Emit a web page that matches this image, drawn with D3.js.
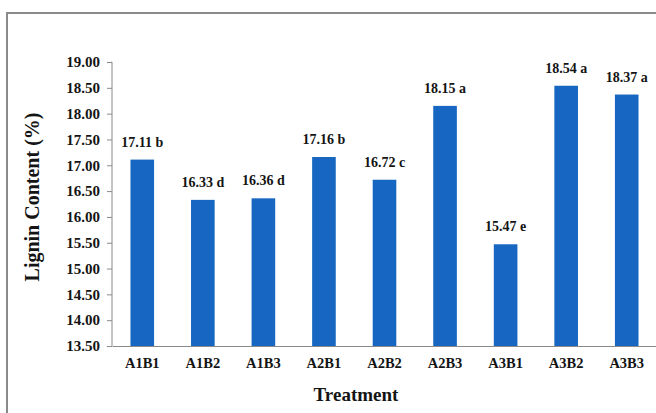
<!DOCTYPE html>
<html>
<head>
<meta charset="utf-8">
<script src="https://cdn.jsdelivr.net/npm/d3@7"></script>
<style>
  html, body { margin: 0; padding: 0; background: #fff; }
  svg { display: block; }
</style>
</head>
<body>
<svg id="chart" width="656" height="413"></svg>
<script>
// Lignin content per treatment, with significance letters
const treatments = ["A1B1", "A1B2", "A1B3", "A2B1", "A2B2", "A2B3", "A3B1", "A3B2", "A3B3"];
const lignin = [17.11, 16.33, 16.36, 17.16, 16.72, 18.15, 15.47, 18.54, 18.37];
const letters = ["b", "d", "d", "b", "c", "a", "e", "a", "a"];
const yTicks = [13.5, 14, 14.5, 15, 15.5, 16, 16.5, 17, 17.5, 18, 18.5, 19];

const serif = "'Liberation Serif', 'Times New Roman', serif";
const ink = "#141414";
const axisGrey = "#8a8a8a";

const svg = d3.select("#chart");

// outer frame
svg.append("rect")
  .attr("x", 7).attr("y", 13)
  .attr("width", 700).attr("height", 450)
  .attr("fill", "#fff")
  .attr("stroke", axisGrey).attr("stroke-width", 2);

const plotLeft = 112, plotRight = 657, plotTop = 62, plotBottom = 346;

const x = d3.scaleBand().domain(treatments).range([plotLeft, plotRight]).paddingInner(0.61).paddingOuter(0.305);
const y = d3.scaleLinear().domain([13.5, 19]).range([plotBottom, plotTop]);

// bars
svg.append("g").selectAll("rect")
  .data(treatments)
  .join("rect")
  .attr("x", d => x(d))
  .attr("width", x.bandwidth())
  .attr("y", (d, i) => y(lignin[i]))
  .attr("height", (d, i) => y(13.5) - y(lignin[i]))
  .attr("fill", "#1767c2");

// value labels
svg.append("g")
  .attr("font-family", serif).attr("font-weight", "bold").attr("font-size", 14).attr("fill", ink)
  .selectAll("text")
  .data(treatments)
  .join("text")
  .attr("x", d => x(d) + x.bandwidth() / 2)
  .attr("y", (d, i) => y(lignin[i]) - 13)
  .attr("text-anchor", "middle")
  .text((d, i) => lignin[i].toFixed(2) + " " + letters[i]);

// y axis
const yAxis = svg.append("g")
  .attr("transform", `translate(${plotLeft},0)`)
  .call(d3.axisLeft(y).tickValues(yTicks).tickSize(5).tickPadding(7).tickFormat(d3.format(".2f")));
yAxis.attr("font-family", serif).attr("font-weight", "bold").attr("font-size", 15);
yAxis.select(".domain").attr("stroke", axisGrey).attr("d", `M-0.5,${plotTop}H0V${plotBottom}`);
yAxis.selectAll(".tick line").attr("stroke", axisGrey);
yAxis.selectAll(".tick text").attr("fill", ink);

// x axis
const xAxis = svg.append("g")
  .attr("transform", `translate(0,${plotBottom})`)
  .call(d3.axisBottom(x).tickSize(0).tickPadding(12));
xAxis.attr("font-family", serif).attr("font-weight", "bold").attr("font-size", 14.5);
xAxis.select(".domain").attr("stroke", axisGrey);
xAxis.selectAll(".tick text").attr("fill", ink);

// axis titles
svg.append("text")
  .attr("transform", `translate(39,197) rotate(-90)`)
  .attr("text-anchor", "middle")
  .attr("font-family", serif).attr("font-weight", "bold").attr("font-size", 20)
  .attr("fill", ink)
  .text("Lignin Content (%)");

svg.append("text")
  .attr("x", 356).attr("y", 401)
  .attr("text-anchor", "middle")
  .attr("font-family", serif).attr("font-weight", "bold").attr("font-size", 19)
  .attr("fill", ink)
  .text("Treatment");
</script>
</body>
</html>
